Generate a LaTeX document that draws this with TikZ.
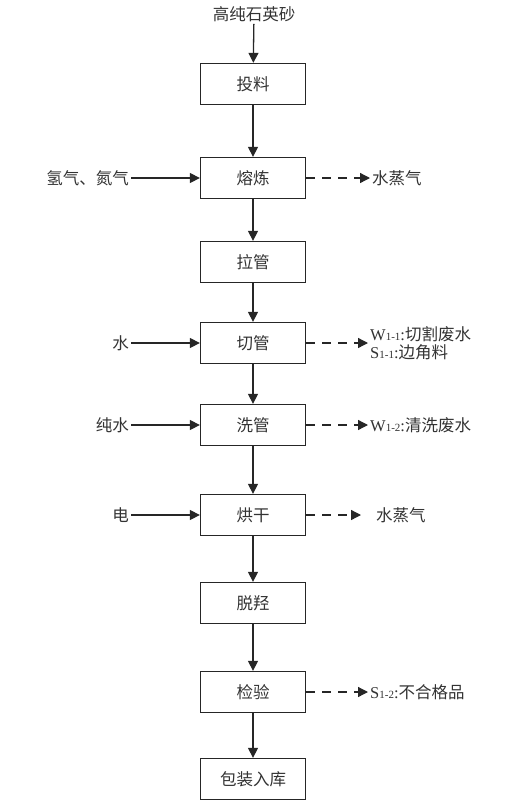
\documentclass[tikz,border=0pt]{standalone}
\usepackage{fontspec}
\setmainfont{Liberation Serif}
\newfontfamily\cjk{Noto Sans CJK SC}
\usetikzlibrary{arrows.meta,positioning}
\newcommand{\wcode}[2]{{\rmfamily #1{\fontsize{11}{13}\selectfont #2}:}}

\begin{document}
\begin{tikzpicture}[x=1pt, y=-1pt,
    proc/.style={rectangle, draw=black!85, line width=1.3pt, fill=white,
                 minimum width=105pt, minimum height=41pt, inner sep=0pt,
                 font=\cjk\fontsize{16.5}{19}\selectfont, text=black!80},
    txt/.style={font=\cjk\fontsize{16.5}{19}\selectfont, text=black!80, inner sep=2pt},
    arr/.style={-{Triangle[length=10pt, width=10pt]}, line width=1.3pt, color=black!85},
    darr/.style={arr, dash pattern=on 9pt off 7pt}
  ]
  \useasboundingbox (0,0) rectangle (525,808);

  % main line
  \node[txt] (raw) at (254,14) {高纯石英砂};
  \node[proc] (feed)  at (253,84)  {投料};
  \node[proc] (melt)  at (253,178) {熔炼};
  \node[proc] (draw)  at (253,262) {拉管};
  \node[proc] (cut)   at (253,343) {切管};
  \node[proc] (wash)  at (253,425) {洗管};
  \node[proc] (dry)   at (253,515) {烘干};
  \node[proc] (dehyd) at (253,603) {脱羟};
  \node[proc] (check) at (253,692) {检验};
  \node[proc] (pack)  at (253,779) {包装入库};

  \draw[arr] (raw) -- (feed);
  \draw[arr] (feed) -- (melt);
  \draw[arr] (melt) -- (draw);
  \draw[arr] (draw) -- (cut);
  \draw[arr] (cut) -- (wash);
  \draw[arr] (wash) -- (dry);
  \draw[arr] (dry) -- (dehyd);
  \draw[arr] (dehyd) -- (check);
  \draw[arr] (check) -- (pack);

  % inputs
  \node[txt, anchor=east] (gas)   at (131,178) {氢气、氮气};
  \node[txt, anchor=east] (water) at (131,343) {水};
  \node[txt, anchor=east] (pure)  at (131,425) {纯水};
  \node[txt, anchor=east] (elec)  at (131,515) {电};

  \draw[arr] (gas) -- (melt);
  \draw[arr] (water) -- (cut);
  \draw[arr] (pure) -- (wash);
  \draw[arr] (elec) -- (dry);

  % outputs
  \node[txt, anchor=west] (steam1) at (370,178) {水蒸气};
  \node[txt, anchor=west, align=left] (cutw) at (368,343)
    {\wcode{W}{1-1}切割废水\\[-1pt]\wcode{S}{1-1}边角料};
  \node[txt, anchor=west] (washw)  at (368,425) {\wcode{W}{1-2}清洗废水};
  \node[txt, anchor=west] (steam2) at (374,515) {水蒸气};
  \node[txt, anchor=west] (reject) at (368,692) {\wcode{S}{1-2}不合格品};
  \coordinate (dryend) at (361,515);

  \draw[darr] (melt) -- (steam1);
  \draw[darr] (cut) -- (cutw);
  \draw[darr] (wash) -- (washw);
  \draw[darr] (dry) -- (dryend);
  \draw[darr] (check) -- (reject);
\end{tikzpicture}
\end{document}
